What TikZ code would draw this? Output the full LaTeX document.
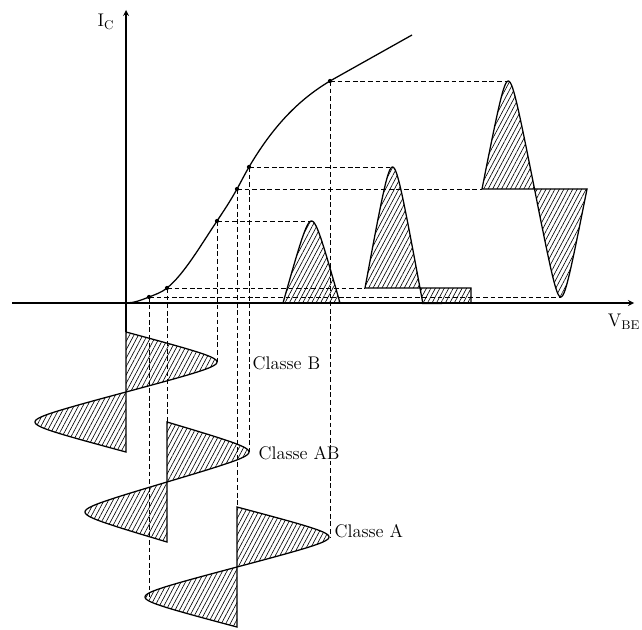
\documentclass[tikz,border=0pt]{standalone}
\usetikzlibrary{patterns.meta,positioning}
\begin{document}
\begin{tikzpicture}[x=0.025cm,y=-0.025cm,>=stealth,
    declare function={onda(\t)=asin(0.93*sin(\t))/68.43;},
    asse/.style={line width=0.9pt},
    proj/.style={dash pattern=on 3.4pt off 2pt,line width=0.6pt},
    segnale/.style={line width=0.9pt,
      pattern={Lines[angle=62,distance=2.8pt,line width=0.45pt]}},
    lab/.style={font=\fontsize{13}{15}\selectfont,anchor=west,inner sep=1pt}]
    \useasboundingbox (0,0) rectangle (642,629);
    % tensioni d'ingresso (tempo verso il basso)
    \foreach \xa/\ya/\amp/\nome in {126/332/91/B,167/422/82/AB,237/507/92/A}{
        \draw[segnale] plot[domain=0:360,samples=121,variable=\t]
            ({\xa+\amp*onda(\t)},{\ya+\t/3}) -- cycle;
        \coordinate (i\nome top) at (\xa,\ya);
        \coordinate (i\nome max) at ({\xa+\amp},{\ya+30});
        \coordinate (i\nome min) at ({\xa-\amp},{\ya+90});
    }
    % correnti d'uscita (tempo verso destra)
    % classe B: solo semionda positiva
    \draw[segnale] plot[domain=0:180,samples=61,variable=\t]
        ({283+\t/180*57},{303-82*onda(\t)}) -- cycle;
    \coordinate (oBmax) at (311.5,221);
    % classe AB: semionda negativa tagliata
    \draw[segnale] plot[domain=0:189.5,samples=64,variable=\t]
        ({365+\t/180*55},{288-121*onda(\t)}) -- (471,303) -- (471,288) -- cycle;
    \coordinate (oABstart) at (365,288);
    \coordinate (oABmax) at (392.5,167);
    % classe A: onda intera
    \draw[segnale] plot[domain=0:360,samples=121,variable=\t]
        ({482+\t/360*105},{189-108*onda(\t)}) -- cycle;
    \coordinate (oAstart) at (482,189);
    \coordinate (oAmax) at (508.25,81);
    \coordinate (oAmin) at (560.75,297);
    % punti sulla caratteristica
    \coordinate (O) at (126,303);
    \coordinate (d1) at (149,297);
    \coordinate (d2) at (167,288);
    \coordinate (d3) at (217,221);
    \coordinate (d4) at (237,189);
    \coordinate (d5) at (249,167);
    \coordinate (d6) at (330,81);
    % proiezioni
    \draw[proj] (d1) -- (d1 -| oAmin) (d1) -- (d1 |- iAmin);
    \draw[proj] (d2) -- (d2 -| oABstart) (d2) -- (d2 |- iABtop);
    \draw[proj] (d3) -- (d3 -| oBmax) (d3) -- (d3 |- iBmax);
    \draw[proj] (d4) -- (d4 -| oAstart) (d4) -- (d4 |- iAtop);
    \draw[proj] (d5) -- (d5 -| oABmax) (d5) -- (d5 |- iABmax);
    \draw[proj] (d6) -- (d6 -| oAmax) (d6) -- (d6 |- iAmax);
    % assi
    \draw[asse,->] (12,303) -- (634,303);
    \draw[asse,->] (iBtop) -- (126,10);
    \node[lab,anchor=center] (ic) at (106,22) {I$_{\mathrm{C}}$};
    \node[lab,anchor=center] (vbe) at (624,322) {V$_{\mathrm{BE}}$};
    % caratteristica I_C(V_BE)
    \draw[line width=0.9pt] (O) .. controls (133.7,303) and (141.3,300.1) .. (d1)
        .. controls (155,294.6) and (161,292.8) .. (d2)
        .. controls (183.7,274.7) and (200.3,246) .. (d3)
        .. controls (223.7,211) and (230.3,201) .. (d4)
        .. controls (241,181.8) and (245,173.8) .. (d5)
        .. controls (276,121.1) and (303,97.2) .. (d6) -- (412,35);
    \foreach \p in {d1,d2,d3,d4,d5,d6}
        \fill (\p) circle (1.5pt);
    % etichette
    \node[lab] (lB) at (251,363) {Classe B};
    \node[lab] (lAB) at (257,453) {Classe AB};
    \node[lab] (lA) at (333,531) {Classe A};
\end{tikzpicture}
\end{document}
